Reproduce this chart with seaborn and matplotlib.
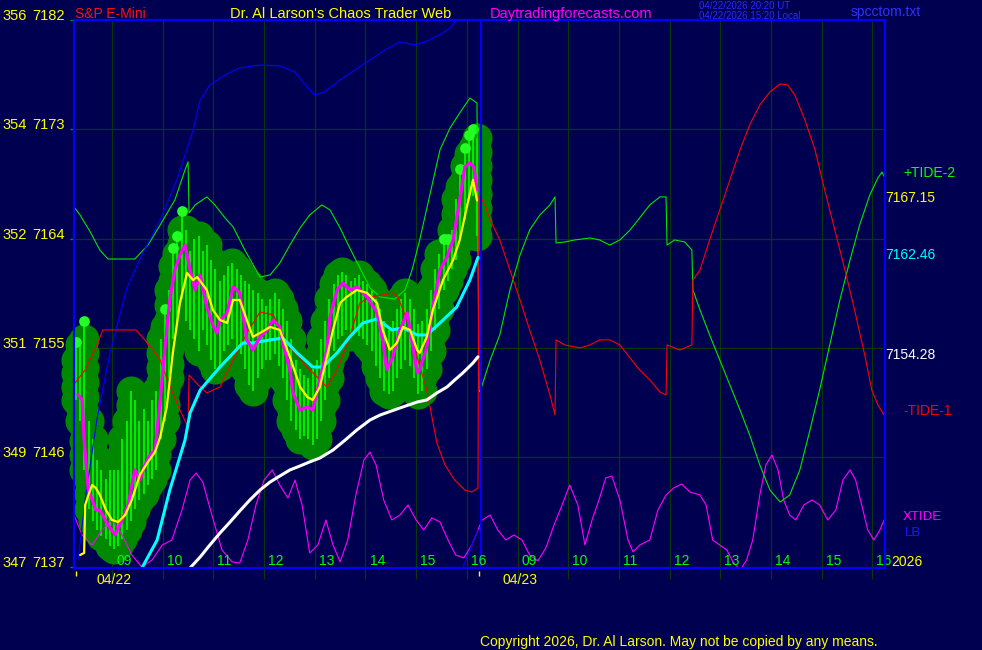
import numpy as np
import pandas as pd
import matplotlib
matplotlib.use("Agg")
import matplotlib.pyplot as plt
import seaborn as sns

# x axis = session hours counted from 08:15 on 04/22; the 04/23 session starts at 8.0

# 5-minute bars of the 04/22 session (S&P E-Mini)
bar_high = [7155.5, 7155.25, 7157.25, 7149.0, 7147.5, 7145.75, 7145.0, 7144.25,
            7145.0, 7145.0, 7145.0, 7147.5, 7149.0, 7151.5, 7150.75, 7149.0,
            7150.0, 7149.0, 7150.75, 7151.5, 7155.75, 7158.25, 7159.75, 7163.25,
            7164.25, 7166.25, 7164.75, 7163.0, 7164.0, 7164.25, 7163.0, 7163.5,
            7162.25, 7161.5, 7160.5, 7161.0, 7161.75, 7162.0, 7161.5, 7161.0,
            7160.5, 7160.25, 7159.75, 7159.5, 7159.0, 7158.5, 7159.0, 7159.5,
            7159.0, 7158.25, 7157.25, 7155.75, 7154.0, 7153.25, 7152.75, 7152.5,
            7153.25, 7154.0, 7155.75, 7157.25, 7159.0, 7160.25, 7161.0, 7161.25,
            7161.0, 7160.5, 7160.75, 7161.0, 7160.5, 7160.25, 7159.75, 7159.0,
            7158.25, 7157.25, 7156.5, 7157.25, 7158.25, 7159.0, 7159.5, 7159.0,
            7158.25, 7157.0, 7157.25, 7158.25, 7159.75, 7161.5, 7162.75, 7164.0,
            7164.0, 7164.75, 7167.25, 7169.75, 7171.5, 7172.5, 7173.0, 7172.25]
bar_low = [7150.75, 7149.0, 7145.0, 7141.75, 7140.75, 7140.0, 7139.5, 7139.25,
           7138.75, 7138.5, 7138.75, 7139.25, 7140.0, 7140.75, 7141.75, 7142.5,
           7143.0, 7143.75, 7144.25, 7145.0, 7147.5, 7149.0, 7152.5, 7155.75,
           7157.25, 7159.0, 7157.25, 7156.5, 7155.75, 7154.75, 7156.5, 7155.25,
           7154.0, 7153.25, 7153.5, 7154.75, 7155.25, 7155.75, 7154.75, 7154.5,
           7153.25, 7152.0, 7151.5, 7152.5, 7153.25, 7154.0, 7154.0, 7154.5,
           7153.5, 7152.5, 7150.75, 7149.0, 7148.25, 7147.5, 7147.75, 7147.5,
           7147.0, 7147.5, 7149.0, 7150.75, 7152.5, 7154.75, 7155.75, 7156.0,
           7156.5, 7156.0, 7156.5, 7156.0, 7155.75, 7155.25, 7154.75, 7153.5,
           7152.5, 7151.5, 7151.25, 7151.5, 7152.5, 7153.25, 7154.0, 7153.5,
           7152.5, 7151.25, 7151.5, 7153.25, 7154.75, 7156.5, 7158.25, 7159.75,
           7160.5, 7161.5, 7162.25, 7164.0, 7165.5, 7167.25, 7167.5, 7164.25]
dot_bars = [0, 2, 21, 23, 24, 25, 87, 88, 91, 92, 93, 94]

# magenta close line
close_t = [0.08, 0.16, 0.20, 0.28, 0.36, 0.43, 0.51, 0.67, 0.81, 0.95, 1.07, 1.20,
           1.30, 1.40, 1.50, 1.60, 1.70, 1.79, 1.89, 1.99, 2.09, 2.19, 2.29, 2.39,
           2.49, 2.62, 2.74, 2.82, 2.88, 3.02, 3.14, 3.27, 3.41, 3.53, 3.67, 3.81,
           3.93, 4.06, 4.12, 4.26, 4.32, 4.46, 4.60, 4.71, 4.85, 4.99, 5.05, 5.19,
           5.31, 5.44, 5.58, 5.78, 5.98, 6.09, 6.17, 6.29, 6.43, 6.57, 6.63, 6.77,
           6.82, 6.96, 7.08, 7.22, 7.36, 7.48, 7.61, 7.71, 7.81, 7.89, 7.95]
close_p = [7151.14, 7150.73, 7147.43, 7143.32, 7142.5, 7141.67, 7141.67, 7140.44,
           7139.62, 7140.85, 7142.09, 7144.97, 7144.14, 7145.38, 7146.2, 7146.61,
           7150.73, 7154.84, 7158.96, 7161.43, 7162.66, 7163.48, 7161.43, 7159.78,
           7161.02, 7158.38, 7156.9, 7156.24, 7157.31, 7157.89, 7160.03, 7159.54,
           7155.67, 7154.84, 7155.92, 7156.49, 7157.31, 7156.74, 7155.42, 7153.2,
           7151.31, 7149.9, 7150.15, 7149.9, 7152.37, 7154.84, 7157.56, 7159.78,
           7160.36, 7159.78, 7160.03, 7159.21, 7157.89, 7155.67, 7153.2, 7154.27,
           7156.49, 7157.89, 7156.49, 7152.95, 7153.2, 7155.09, 7158.38, 7161.43,
           7162.5, 7163.9, 7167.19, 7169.9, 7170.23, 7169.9, 7168.01]

# yellow fast average
fast_t = [0.12, 0.20, 0.22, 0.32, 0.36, 0.43, 0.51, 0.63, 0.75, 0.87, 1.01, 1.14,
          1.30, 1.46, 1.60, 1.70, 1.83, 1.95, 2.09, 2.23, 2.35, 2.43, 2.62, 2.74,
          2.88, 3.02, 3.14, 3.27, 3.41, 3.53, 3.67, 3.87, 4.06, 4.26, 4.46, 4.60,
          4.71, 4.85, 4.99, 5.11, 5.25, 5.38, 5.58, 5.78, 5.98, 6.09, 6.23, 6.37,
          6.49, 6.63, 6.77, 6.82, 6.96, 7.08, 7.28, 7.48, 7.61, 7.75, 7.87, 7.95]
fast_p = [7137.97, 7138.14, 7142.09, 7143.32, 7143.73, 7143.48, 7142.91, 7141.67,
          7140.85, 7140.69, 7141.26, 7142.5, 7144.56, 7145.63, 7146.45, 7147.68,
          7150.15, 7154.6, 7158.71, 7161.18, 7160.6, 7160.85, 7159.78, 7158.14,
          7157.31, 7157.07, 7158.96, 7158.96, 7157.31, 7155.92, 7156.24, 7156.74,
          7156.49, 7154.27, 7151.8, 7150.98, 7150.73, 7151.8, 7154.27, 7156.49,
          7158.71, 7159.21, 7159.78, 7159.54, 7158.71, 7156.49, 7154.84, 7155.42,
          7156.74, 7156.49, 7154.84, 7154.6, 7155.92, 7158.14, 7160.6, 7162.25,
          7163.9, 7166.61, 7168.84, 7167.15]

# cyan average
mid_t = [1.34, 1.64, 1.89, 2.19, 2.29, 2.49, 2.88, 3.33, 3.53, 3.87, 4.12, 4.40,
         4.71, 4.91, 5.19, 5.44, 5.70, 5.98, 6.27, 6.49, 6.77, 6.96, 7.22, 7.55,
         7.81, 7.97]
mid_p = [7136.9, 7139.2, 7143.32, 7147.43, 7149.66, 7151.55, 7153.44, 7155.42,
         7155.42, 7155.67, 7155.83, 7154.6, 7153.44, 7153.44, 7154.6, 7155.92,
         7157.07, 7157.4, 7156.49, 7156.66, 7156.08, 7156.08, 7157.07, 7158.38,
         7160.6, 7162.46]

# white slow average
slow_t = [2.29, 2.49, 2.68, 2.88, 3.08, 3.27, 3.47, 3.67, 3.87, 4.06, 4.26, 4.46,
          4.65, 4.85, 5.11, 5.35, 5.58, 5.84, 6.04, 6.43, 6.77, 6.96, 7.16, 7.36,
          7.51, 7.67, 7.87, 7.97]
slow_p = [7136.9, 7137.81, 7138.79, 7139.78, 7140.69, 7141.59, 7142.5, 7143.32,
          7143.98, 7144.47, 7144.97, 7145.3, 7145.63, 7145.95, 7146.61, 7147.43,
          7148.26, 7149.08, 7149.49, 7150.07, 7150.56, 7150.73, 7151.31, 7151.8,
          7152.37, 7152.95, 7153.77, 7154.28]

# +TIDE-2 (green) and -TIDE-1 (red), both sessions
tide2_t = [0.00, 0.12, 0.32, 0.51, 0.67, 1.20, 1.46, 1.70, 1.99, 2.19, 2.25, 2.27,
           2.39, 2.62, 2.78, 2.98, 3.14, 3.37, 3.67, 3.87, 4.06, 4.26, 4.46, 4.65,
           4.89, 5.05, 5.25, 5.44, 5.64, 5.84, 6.04, 6.33, 6.53, 6.67, 6.82, 7.02,
           7.22, 7.42, 7.61, 7.81, 7.95, 7.99, 8.01, 8.21, 8.40, 8.60, 8.80, 8.99,
           9.19, 9.39, 9.49, 9.51, 9.68, 9.88, 10.18, 10.37, 10.57, 10.77, 10.97,
           11.16, 11.36, 11.56, 11.68, 11.70, 11.85, 12.05, 12.19, 12.21, 12.35,
           12.54, 12.74, 12.94, 13.14, 13.33, 13.53, 13.73, 13.93, 14.12, 14.32,
           14.52, 14.71, 14.91, 15.11, 15.31, 15.50, 15.70, 15.86, 15.94, 16.00]
tide2_p = [7166.61, 7165.95, 7164.56, 7163.07, 7162.33, 7162.33, 7163.48, 7165.13,
           7167.19, 7169.66, 7170.32, 7166.12, 7166.78, 7167.44, 7166.78, 7165.71,
           7164.97, 7163.07, 7160.85, 7161.02, 7162.0, 7163.48, 7164.88, 7165.95,
           7166.78, 7166.37, 7164.88, 7163.24, 7161.59, 7159.95, 7159.21, 7159.04,
           7159.78, 7161.43, 7163.9, 7167.6, 7171.31, 7173.12, 7174.35, 7175.58,
           7175.17, 7151.55, 7151.39, 7154.02, 7156.08, 7159.78, 7162.66, 7164.72,
           7165.95, 7166.78, 7167.44, 7163.65, 7163.73, 7163.9, 7164.06, 7163.9,
           7163.48, 7163.9, 7164.72, 7165.71, 7166.78, 7167.44, 7167.44, 7163.48,
           7163.9, 7163.73, 7163.07, 7159.78, 7158.14, 7156.08, 7154.02, 7151.96,
           7149.9, 7147.85, 7145.38, 7143.32, 7142.33, 7142.91, 7144.97, 7148.26,
           7151.55, 7155.26, 7158.96, 7162.25, 7165.13, 7167.6, 7169.0, 7169.49,
           7169.0]

tide1_t = [0.02, 0.22, 0.41, 0.57, 1.22, 1.40, 1.56, 1.70, 1.83, 1.95, 2.09, 2.25,
           2.27, 2.45, 2.62, 2.88, 3.14, 3.41, 3.67, 3.93, 4.12, 4.26, 4.60, 4.99,
           5.19, 5.44, 5.64, 5.84, 6.09, 6.29, 6.39, 6.57, 6.77, 6.96, 7.16, 7.32,
           7.51, 7.71, 7.85, 7.97, 7.99, 8.11, 8.21, 8.40, 8.60, 8.80, 8.99, 9.19,
           9.39, 9.49, 9.51, 9.68, 9.98, 10.18, 10.37, 10.57, 10.77, 10.97, 11.16,
           11.36, 11.56, 11.68, 11.70, 11.95, 12.19, 12.21, 12.35, 12.54, 12.74,
           12.94, 13.14, 13.33, 13.53, 13.73, 13.93, 14.08, 14.22, 14.42, 14.62,
           14.81, 15.01, 15.21, 15.40, 15.60, 15.74, 15.86, 15.98]
tide1_p = [7152.13, 7153.2, 7154.84, 7156.49, 7156.49, 7155.67, 7154.84, 7154.02,
           7152.54, 7151.31, 7149.9, 7148.5, 7152.78, 7151.96, 7151.31, 7151.8,
           7154.02, 7156.24, 7157.97, 7157.73, 7156.08, 7155.09, 7153.44, 7151.8,
           7153.2, 7155.92, 7158.71, 7159.21, 7159.37, 7159.54, 7159.21, 7157.31,
           7154.27, 7151.55, 7147.19, 7145.38, 7144.14, 7143.32, 7143.16, 7143.48,
           7167.6, 7166.78, 7165.54, 7163.9, 7161.43, 7158.96, 7156.49, 7154.02,
           7151.14, 7149.49, 7155.67, 7155.26, 7155.01, 7155.26, 7155.67, 7155.67,
           7155.26, 7154.19, 7153.2, 7152.37, 7151.39, 7151.14, 7155.26, 7154.84,
           7155.26, 7160.6, 7161.43, 7163.9, 7166.37, 7168.84, 7171.31, 7173.36,
           7175.01, 7176.08, 7176.74, 7176.65, 7175.83, 7173.77, 7171.31, 7168.01,
           7164.72, 7161.43, 7158.14, 7154.43, 7151.55, 7150.32, 7149.49]

# XTIDE (thin magenta)
xtide_t = [0.00, 0.16, 0.36, 0.55, 0.75, 0.95, 1.14, 1.34, 1.54, 1.74, 1.93, 2.13,
           2.29, 2.41, 2.54, 2.72, 2.92, 3.12, 3.27, 3.43, 3.59, 3.75, 3.91, 4.06,
           4.22, 4.36, 4.50, 4.65, 4.81, 4.97, 5.11, 5.25, 5.40, 5.56, 5.72, 5.84,
           5.96, 6.11, 6.27, 6.43, 6.59, 6.75, 6.90, 7.06, 7.22, 7.38, 7.53, 7.69,
           7.85, 7.97, 8.05, 8.21, 8.36, 8.52, 8.68, 8.84, 8.99, 9.15, 9.31, 9.47,
           9.63, 9.78, 9.94, 10.08, 10.22, 10.37, 10.49, 10.61, 10.77, 10.93, 11.03,
           11.16, 11.36, 11.52, 11.68, 11.83, 11.99, 12.15, 12.35, 12.47, 12.60,
           12.74, 12.88, 13.00, 13.14, 13.27, 13.39, 13.53, 13.65, 13.77, 13.89,
           14.00, 14.12, 14.24, 14.40, 14.56, 14.71, 14.87, 15.03, 15.17, 15.31,
           15.42, 15.54, 15.66, 15.78, 15.90, 15.98]
xtide_p = [7141.26, 7139.62, 7138.79, 7140.03, 7140.85, 7139.62, 7137.97, 7136.98,
           7137.56, 7138.79, 7139.2, 7141.67, 7144.14, 7144.72, 7143.98, 7141.26,
           7138.38, 7137.4, 7137.31, 7139.2, 7142.09, 7144.14, 7144.97, 7143.73,
           7142.66, 7144.14, 7142.09, 7138.14, 7138.79, 7140.85, 7138.79, 7137.4,
           7139.2, 7142.91, 7145.79, 7146.45, 7145.38, 7142.5, 7140.85, 7141.26,
           7142.09, 7140.85, 7140.03, 7141.02, 7140.69, 7139.2, 7137.97, 7137.73,
           7138.79, 7140.03, 7140.85, 7141.26, 7140.03, 7139.2, 7139.62, 7139.2,
           7137.97, 7137.48, 7138.55, 7140.44, 7142.09, 7143.73, 7142.09, 7138.79,
           7140.85, 7142.66, 7144.31, 7144.47, 7142.5, 7139.2, 7138.22, 7138.79,
           7139.2, 7141.67, 7142.91, 7143.48, 7143.81, 7143.16, 7142.91, 7142.09,
           7139.2, 7138.79, 7138.38, 7137.4, 7136.73, 7137.56, 7139.2, 7142.91,
           7145.38, 7146.2, 7144.97, 7142.5, 7141.26, 7140.85, 7142.09, 7142.5,
           7142.09, 7140.85, 7141.67, 7144.14, 7144.97, 7144.14, 7142.09, 7140.03,
           7139.2, 7140.03, 7140.85]

# LB (thin blue), two pieces
lb_t = [0.08, 0.22, 0.45, 0.71, 1.05, 1.36, 1.70, 2.03, 2.35, 2.49, 2.68, 2.98,
        3.27, 3.67, 4.06, 4.36, 4.56, 4.75, 4.95, 5.25, 5.54, 5.84, 6.13, 6.43,
        6.73, 6.92, 7.22, 7.42, 7.55, 7.65]
lb_p = [7137.56, 7142.5, 7149.08, 7154.6, 7160.03, 7162.83, 7165.54, 7168.84,
        7172.95, 7175.42, 7176.65, 7177.48, 7178.05, 7178.3, 7178.22, 7177.72,
        7176.65, 7175.83, 7176.08, 7177.07, 7177.89, 7178.71, 7179.53, 7180.19,
        7179.95, 7180.19, 7180.77, 7181.35, 7182.0, 7182.5]
lb2_t = [7.65, 7.81, 7.97]
lb2_p = [7136.73, 7138.38, 7140.03]

price_levels = [7137, 7146, 7155, 7164, 7173, 7182]
left_nums = ["347", "349", "351", "352", "354", "356"]
hour_labels = ["09", "10", "11", "12", "13", "14", "15", "16"]
day_labels = ["04/22", "04/23"]

BG = "#000050"
W, H = 982, 650

sns.set_theme(style="dark")
plt.rcParams["font.family"] = ["Liberation Sans", "DejaVu Sans"]

fig = plt.figure(figsize=(W / 100, H / 100), dpi=100, facecolor=BG)
ax = fig.add_axes([74 / W, 1 - 568 / H, (885 - 74) / W, (568 - 20) / H])
ax.set_facecolor(BG)
ax.set_xlim(0, 16)
ax.set_ylim(7136.9, 7182)
ax.set_xticks([])
ax.set_yticks([])
ax.grid(False)
for sp in ax.spines.values():
    sp.set_color("#0000ff")
    sp.set_linewidth(1.6)
    sp.set_zorder(10)

# grid: hour lines (extend a bit below the frame) and price levels
grid_t = [0.75 + i for i in range(8)] + [8.75 + i for i in range(8)]
ax.vlines(grid_t, 7136.0, 7182, color="#073807", lw=0.9, zorder=1, clip_on=False)
ax.hlines(price_levels[1:-1], 0, 16, color="#073807", lw=0.9, zorder=1)
ax.hlines(price_levels, -0.08, 0, color="#00a000", lw=0.9, clip_on=False, zorder=1)

# price bars with their glow
bar_t = 0.04 + np.arange(len(bar_high)) / 12
rows = []
for i, (t, hi, lo) in enumerate(zip(bar_t, bar_high, bar_low)):
    top = hi - 1.5 if i in dot_bars else hi
    n = int(np.ceil((top - lo) / 1.3)) + 1
    for p in np.linspace(lo, top, n):
        rows.append((t, p))
glow = pd.DataFrame(rows, columns=["t", "price"])
sns.scatterplot(data=glow, x="t", y="price", s=470, color="#008800", linewidth=0,
                zorder=2, clip_on=False, legend=False, ax=ax)
ax.vlines(bar_t, bar_low, bar_high, color="#00ff00", lw=1.2, zorder=3)
sns.scatterplot(x=bar_t[dot_bars], y=np.array(bar_high)[dot_bars], s=60,
                color="#22ff22", linewidth=0, zorder=3.5, legend=False, ax=ax)


def line(ts, ps, color, lw, z):
    sns.lineplot(x=ts, y=ps, color=color, linewidth=lw, sort=False,
                 estimator=None, zorder=z, legend=False, ax=ax)


line(xtide_t, xtide_p, "#ff00ff", 0.8, 4)
line(tide2_t, tide2_p, "#00e600", 0.8, 4)
line(tide1_t, tide1_p, "#ff0000", 0.8, 4)
line(lb_t, lb_p, "#0000ff", 0.8, 4)
line(lb2_t, lb2_p, "#0000ff", 0.8, 4)
ax.axvline(8.02, color="#0000ff", lw=1.5, zorder=4.5)
line(slow_t, slow_p, "#ffffff", 2.2, 5)
line(mid_t, mid_p, "#00ffff", 2.2, 5)
line(close_t, close_p, "#ff00ff", 2.3, 6)
line(fast_t, fast_p, "#ffff00", 1.6, 7)
ax.set_xlabel("")
ax.set_ylabel("")

# hour labels inside the frame, dates below it
for i, t in enumerate(grid_t):
    ax.text(t + 0.08, 7137.15, hour_labels[i % 8], color="#00ff00", fontsize=10,
            ha="left", va="baseline", zorder=8)
for t, lab in zip([0.79, 8.79], day_labels):
    ax.text(t, 7136.9 - 16 / 12.18, lab, color="#ffff00", fontsize=10,
            ha="center", va="baseline")
ax.vlines([0.04, 8.0], 7136.9 - 8 / 12.18, 7136.9 - 3 / 12.18, color="#ffff00",
          lw=1, clip_on=False)

# left price scale
for lvl, num in zip(price_levels, left_nums):
    ax.text(-1.42, lvl, num, color="#ffff00", fontsize=10.5, ha="left", va="baseline")
    ax.text(-0.18, lvl, str(lvl), color="#ffff00", fontsize=10.5, ha="right",
            va="baseline")


def ftext(x, y, s, color, size=10):
    fig.text(x / W, 1 - y / H, s, color=color, fontsize=size, ha="left", va="baseline")


ftext(75, 18, "S&P E-Mini", "#ff1010")
ftext(230, 18, "Dr. Al Larson's Chaos Trader Web", "#ffff00", 10.5)
ftext(490, 18, "Daytradingforecasts.com", "#ff00ff", 10.5)
ftext(699, 9, "04/22/2026 20:20 UT", "#2a2aff", 7)
ftext(699, 19, "04/22/2026 15:20 Local", "#2a2aff", 7)
ftext(851, 16, "spcctom.txt", "#3030ff", 10)

ftext(903, 177, "+TIDE-2", "#00ff00")
ftext(885, 202, "7167.15", "#ffff00")
ftext(885, 259, "7162.46", "#00ffff")
ftext(885, 359, "7154.28", "#ffffff")
ftext(903, 415, "-TIDE-1", "#ff0000")
ftext(903, 520, "XTIDE", "#ff00ff", 9.5)
ftext(905, 536, "LB", "#1a1aff", 9.5)
ftext(891, 566, "2026", "#ffff00")

ftext(480, 646, "Copyright 2026, Dr. Al Larson. May not be copied by any means.", "#ffff00")

fig.savefig("out.png", dpi=100, facecolor=BG)
